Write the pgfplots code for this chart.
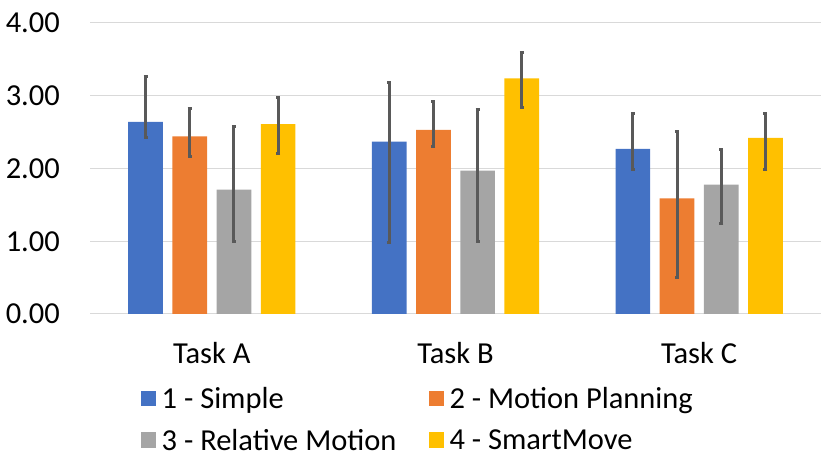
\documentclass[border=0pt]{standalone}
\usepackage{fontspec}
\setmainfont{Carlito}
\usepackage{pgfplots}
\usepackage{pgfplotstable}
\pgfplotsset{compat=1.18}
\definecolor{cblue}{HTML}{4472C4}
\definecolor{corange}{HTML}{ED7D31}
\definecolor{cgray}{HTML}{A5A5A5}
\definecolor{cyellow}{HTML}{FFC000}
\definecolor{cgrid}{HTML}{D9D9D9}
\definecolor{cerr}{HTML}{595959}
\newcommand{\bigfont}{\fontsize{30.6}{36}\selectfont}

\pgfplotstableread{
x y ep em
0 2.64 0.63 0.22
1 2.37 0.81 1.39
2 2.27 0.49 0.28
}\simple
\pgfplotstableread{
x y ep em
0 2.44 0.38 0.28
1 2.53 0.39 0.23
2 1.59 0.92 1.09
}\motion
\pgfplotstableread{
x y ep em
0 1.71 0.87 0.72
1 1.97 0.84 0.98
2 1.78 0.48 0.54
}\relative
\pgfplotstableread{
x y ep em
0 2.61 0.37 0.41
1 3.24 0.36 0.40
2 2.42 0.34 0.43
}\smart

\begin{document}
\begin{tikzpicture}
\useasboundingbox (0,0) rectangle (830bp,467bp);
\begin{axis}[
  at={(90bp,153bp)}, anchor=south west,
  scale only axis, width=731bp, height=291bp,
  ybar=9.5bp, bar width=34.7bp,
  xmin=-0.5, xmax=2.5, ymin=0, ymax=4,
  xtick={0,1,2}, xticklabels={Task A,Task B,Task C},
  ytick={0,1,2,3,4},
  ymajorgrids, grid style={cgrid, line width=1bp},
  axis line style={draw=none},
  major tick length=0pt,
  tick style={draw=none},
  /pgf/number format/.cd, fixed, fixed zerofill, precision=2, assume math mode=true,
  /pgfplots/.cd,
  yticklabel style={font=\bigfont, anchor=east, inner sep=0pt, xshift=-30bp},
  xticklabel style={font=\bigfont, anchor=base, inner sep=0pt, yshift=-49bp},
  legend columns=2,
  legend cell align=left,
  legend style={at={(51bp,-73bp)}, anchor=north west, draw=none, fill=none,
    font=\bigfont, inner sep=0pt, row sep=19bp,
    nodes={inner xsep=5.5bp, inner ysep=0pt},
    /tikz/every even column/.append style={column sep=27bp}},
  legend image code/.code={\fill[#1] (0bp,-7.5bp) rectangle (15bp,8bp);},
  error bars/y dir=both, error bars/y explicit,
  error bars/error bar style={line width=3bp, cerr},
  error bars/error mark options={line width=3bp, cerr, mark size=2bp, rotate=90},
]
\addplot[fill=cblue, draw=none] table[x=x,y=y,y error plus=ep,y error minus=em]{\simple};
\addlegendentry{1 - Simple}
\addplot[fill=corange, draw=none] table[x=x,y=y,y error plus=ep,y error minus=em]{\motion};
\addlegendentry{2 - Motion Planning}
\addplot[fill=cgray, draw=none] table[x=x,y=y,y error plus=ep,y error minus=em]{\relative};
\addlegendentry{3 - Relative Motion}
\addplot[fill=cyellow, draw=none] table[x=x,y=y,y error plus=ep,y error minus=em]{\smart};
\addlegendentry{4 - SmartMove}
\end{axis}
\end{tikzpicture}
\end{document}
